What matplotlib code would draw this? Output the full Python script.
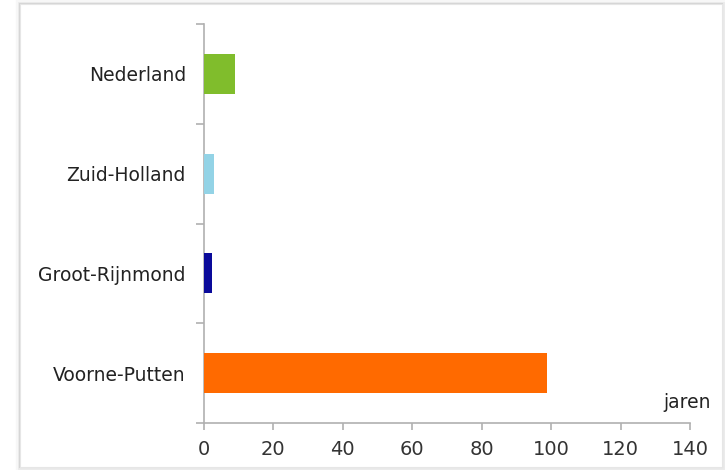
import matplotlib
matplotlib.use("Agg")
import matplotlib.pyplot as plt
from matplotlib.patches import Rectangle
import numpy as np

plt.rcParams["font.family"] = ["DejaVu Sans"]

categories = ["Nederland", "Zuid-Holland", "Groot-Rijnmond", "Voorne-Putten"]
values = [8.9, 2.9, 2.3, 98.8]
colors = ["#80bd2c", "#93d3e6", "#0a0a9a", "#ff6a00"]
xticks = [0, 20, 40, 60, 80, 100, 120, 140]
unit_label = "jaren"

W, H = 725, 470
fig = plt.figure(figsize=(W / 100, H / 100), dpi=100)

# frame with soft shadow
for a, lw in [(0.06, 6), (0.10, 3.5), (0.18, 1.5)]:
    fig.add_artist(Rectangle((20 / W, 3 / H), 702 / W, 463 / H, transform=fig.transFigure,
                             fill=False, edgecolor=(0.5, 0.5, 0.5, a), linewidth=lw, zorder=-2))
fig.add_artist(Rectangle((20 / W, 3 / H), 702 / W, 463 / H, transform=fig.transFigure,
                         fill=True, facecolor="white", edgecolor="#e6e6e6", linewidth=0.8, zorder=-1))

ax = fig.add_axes([204 / W, (H - 423) / H, (690 - 204) / W, (423 - 24) / H])
ax.set_facecolor("none")
ax.patch.set_alpha(0)

n = len(categories)
ypos = np.arange(n)[::-1]
ax.barh(ypos, values, height=0.4, color=colors, zorder=3)

ax.set_xlim(0, 140)
ax.set_ylim(-0.5, n - 0.5)
ax.set_xticks(xticks)
ax.set_xticklabels([str(t) for t in xticks])
ax.set_yticks(ypos)
ax.set_yticklabels(categories)
ax.set_yticks(np.arange(-0.5, n, 1.0), minor=True)

for s in ["top", "right"]:
    ax.spines[s].set_visible(False)
for s in ["left", "bottom"]:
    ax.spines[s].set_color("#b0b0b0")
    ax.spines[s].set_linewidth(1.2)

ax.tick_params(axis="y", which="major", length=0, pad=13, labelsize=13.5, labelcolor="#222222")
ax.tick_params(axis="y", which="minor", length=6, color="#b0b0b0", width=1.2)
ax.tick_params(axis="x", which="major", length=5, color="#b0b0b0", width=1.2, pad=7,
               labelsize=14, labelcolor="#333333")

ax.text(1.042, 0.028, unit_label, transform=ax.transAxes, ha="right", va="bottom",
        fontsize=13.5, color="#222222")

fig.savefig("out.png", dpi=100)
